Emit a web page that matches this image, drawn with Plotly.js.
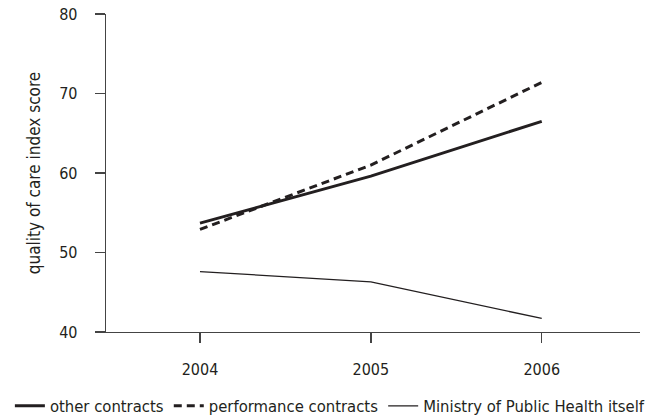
<!DOCTYPE html>
<html>
<head>
<meta charset="utf-8">
<script src="https://cdn.plot.ly/plotly-3.0.1.min.js"></script>
<style>html,body{margin:0;padding:0;background:#fff;}#chart{width:665px;height:419px;}</style>
</head>
<body>
<div id="chart"></div>
<script>
const years = [2004, 2005, 2006];
const otherContracts = [53.7, 59.6, 66.5];
const performanceContracts = [52.9, 61.0, 71.4];
const ministryItself = [47.6, 46.3, 41.7];
const seriesNames = ["other contracts", "performance contracts", "Ministry of Public Health itself"];
const yTicks = [40, 50, 60, 70, 80];
const xTicks = [2004, 2005, 2006];

const FONT = '"DejaVu Sans Condensed", "Liberation Sans Narrow", "Roboto", sans-serif';
const INK = '#231f20';

const traces = [
  {x: years, y: otherContracts, name: seriesNames[0], mode: 'lines', type: 'scatter',
   line: {color: INK, width: 3}},
  {x: years, y: performanceContracts, name: seriesNames[1], mode: 'lines', type: 'scatter',
   line: {color: INK, width: 3, dash: '8px,5px'}},
  {x: years, y: ministryItself, name: seriesNames[2], mode: 'lines', type: 'scatter',
   line: {color: INK, width: 1.3}}
];

const layout = {
  width: 665, height: 419,
  margin: {l: 106, r: 25, t: 14, b: 87, autoexpand: false},
  paper_bgcolor: '#fff', plot_bgcolor: '#fff',
  font: {family: FONT, size: 16, color: INK},
  showlegend: true,
  legend: {orientation: 'h', x: -0.18, xanchor: 'left', y: -0.233, yanchor: 'middle',
           font: {family: FONT, size: 16.5, color: INK}, itemwidth: 30, tracegroupgap: 0,
           bgcolor: 'rgba(0,0,0,0)'},
  xaxis: {range: [2003.45, 2006.575], tickvals: xTicks, ticktext: xTicks.map(String),
          showgrid: false, zeroline: false, showline: true, linecolor: '#444', linewidth: 1.3,
          ticks: 'outside', ticklen: 10, tickwidth: 1.3, tickcolor: '#444', ticklabelstandoff: 12,
          tickfont: {family: FONT, size: 16, color: INK}, fixedrange: true},
  yaxis: {range: [40, 80], tickvals: yTicks, showgrid: false, zeroline: false,
          showline: true, linecolor: '#444', linewidth: 1.3,
          ticks: 'outside', ticklen: 10, tickwidth: 1.3, tickcolor: '#444', ticklabelstandoff: 14,
          tickfont: {family: FONT, size: 16, color: INK},
          title: {text: 'quality of care index score', font: {family: FONT, size: 17, color: INK}, standoff: 14},
          fixedrange: true}
};

Plotly.newPlot('chart', traces, layout, {displayModeBar: false, staticPlot: true});
</script>
</body>
</html>
